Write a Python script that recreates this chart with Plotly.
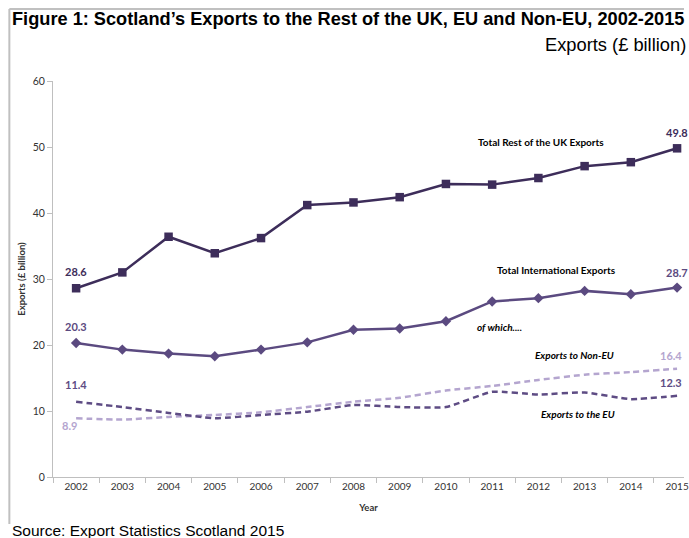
import plotly.graph_objects as go

years = [str(y) for y in range(2002, 2016)]
rest_uk = [28.6, 31.0, 36.4, 33.9, 36.2, 41.2, 41.6, 42.4, 44.4, 44.3, 45.3, 47.1, 47.7, 49.8]
international = [20.3, 19.3, 18.7, 18.3, 19.3, 20.4, 22.3, 22.5, 23.6, 26.6, 27.1, 28.2, 27.7, 28.7]
non_eu = [8.9, 8.7, 9.1, 9.4, 9.8, 10.6, 11.4, 12.0, 13.1, 13.8, 14.7, 15.5, 15.9, 16.4]
eu = [11.4, 10.6, 9.7, 8.9, 9.4, 9.9, 10.9, 10.6, 10.6, 12.9, 12.5, 12.8, 11.8, 12.3]

C_RUK = "#3d2d5a"
C_INT = "#5b4a80"
C_EU = "#5e4c84"
C_NEU = "#b4a5cf"

W, H = 689, 538
L, R, T, B = 53, 689, 81, 477

def px(x):
    return (x - L) / (R - L)

def py(y):
    return (B - y) / (B - T)

fig = go.Figure()
fig.add_trace(go.Scatter(x=years, y=non_eu, mode="lines", line=dict(color=C_NEU, width=2.5, dash="6px,4px", shape="spline", smoothing=0.5), hoverinfo="skip"))
fig.add_trace(go.Scatter(x=years, y=eu, mode="lines", line=dict(color=C_EU, width=2.5, dash="6px,4px", shape="spline", smoothing=0.5), hoverinfo="skip"))
fig.add_trace(go.Scatter(x=years, y=international, mode="lines+markers", line=dict(color=C_INT, width=2.5), marker=dict(symbol="diamond", size=8, color=C_INT)))
fig.add_trace(go.Scatter(x=years, y=rest_uk, mode="lines+markers", line=dict(color=C_RUK, width=2.5), marker=dict(symbol="square", size=8.5, color=C_RUK)))

lab_font = "Lato, Open Sans, sans-serif"

def val_label(i, y, text, color, yshift=14, xshift=0):
    fig.add_annotation(x=i, y=y, xref="x", yref="y", text="<b>%s</b>" % text, showarrow=False,
                       yshift=yshift, xshift=xshift, font=dict(family=lab_font, size=11, color=color))

last = len(years) - 1
val_label(0, rest_uk[0], "28.6", C_RUK, yshift=17)
val_label(0, international[0], "20.3", C_INT, yshift=17)
val_label(0, eu[0], "11.4", C_EU, yshift=17)
val_label(0, non_eu[0], "8.9", C_NEU, yshift=-7, xshift=-7)
val_label(last, rest_uk[-1], "49.8", C_RUK, yshift=16)
val_label(last, international[-1], "28.7", C_INT, yshift=15)
val_label(last, non_eu[-1], "16.4", C_NEU, yshift=13, xshift=-6)
val_label(last, eu[-1], "12.3", C_EU, yshift=13, xshift=-6)

def txt(x, y, text, italic=False, size=10):
    t = "<b>%s</b>" % text
    if italic:
        t = "<i>%s</i>" % t
    fig.add_annotation(x=px(x), y=py(y), xref="paper", yref="paper", text=t, showarrow=False,
                       xanchor="center", yanchor="middle", font=dict(family=lab_font, size=size, color="#000000"))

txt(545, 142, "Total Rest of the UK Exports")
txt(560, 270, "Total International Exports")
txt(503, 327, "of which....", italic=True)
txt(579, 355, "Exports to Non-EU", italic=True)
txt(582, 414, "Exports to the EU", italic=True)

# Title texts
fig.add_annotation(x=px(10), y=py(19), xref="paper", yref="paper", xanchor="left", yanchor="middle",
                   text="<b>Figure 1: Scotland\u2019s Exports to the Rest of the UK, EU and Non-EU, 2002-2015</b>",
                   showarrow=False, font=dict(family="Liberation Sans, Arial", size=18.2, color="#000000"))
fig.add_annotation(x=px(693), y=py(44), xref="paper", yref="paper", xanchor="right", yanchor="middle",
                   text="Exports (\u00a3 billion)", showarrow=False,
                   font=dict(family="Liberation Sans, Arial", size=18.3, color="#000000"))
fig.add_annotation(x=px(10), y=py(530), xref="paper", yref="paper", xanchor="left", yanchor="middle",
                   text="Source: Export Statistics Scotland 2015", showarrow=False,
                   font=dict(family="Liberation Sans, Arial", size=15.5, color="#000000"))

# Border lines
fig.add_shape(type="line", xref="paper", yref="paper", x0=px(9), x1=px(689), y0=py(9), y1=py(9),
              line=dict(color="#c0c0c0", width=2))
fig.add_shape(type="line", xref="paper", yref="paper", x0=px(9), x1=px(9), y0=py(9), y1=py(524),
              line=dict(color="#c0c0c0", width=2))

fig.update_layout(
    width=W, height=H,
    margin=dict(l=L, r=W - R, t=T, b=H - B),
    paper_bgcolor="white", plot_bgcolor="white",
    showlegend=False,
    font=dict(family=lab_font, color="#333333"),
)
fig.update_xaxes(type="category", range=[-0.5, 13.15], tickson="boundaries", ticks="outside", ticklen=5,
                 tickcolor="#bfbfbf", showline=True, linecolor="#bfbfbf", linewidth=1, showgrid=False,
                 tickfont=dict(size=10, color="#333333", family=lab_font),
                 title=dict(text="<b>Year</b>", font=dict(size=9.5, color="#333333", family=lab_font), standoff=13))
fig.update_yaxes(range=[0, 60], dtick=10, ticks="outside", ticklen=5, tickcolor="#bfbfbf", showline=True,
                 linecolor="#bfbfbf", linewidth=1, showgrid=False, zeroline=False,
                 tickfont=dict(size=10.5, color="#333333", family=lab_font),
                 title=dict(text="<b>Exports (\u00a3 billion)</b>", font=dict(size=9.5, color="#333333", family=lab_font), standoff=5))

fig.write_html("out.html")
